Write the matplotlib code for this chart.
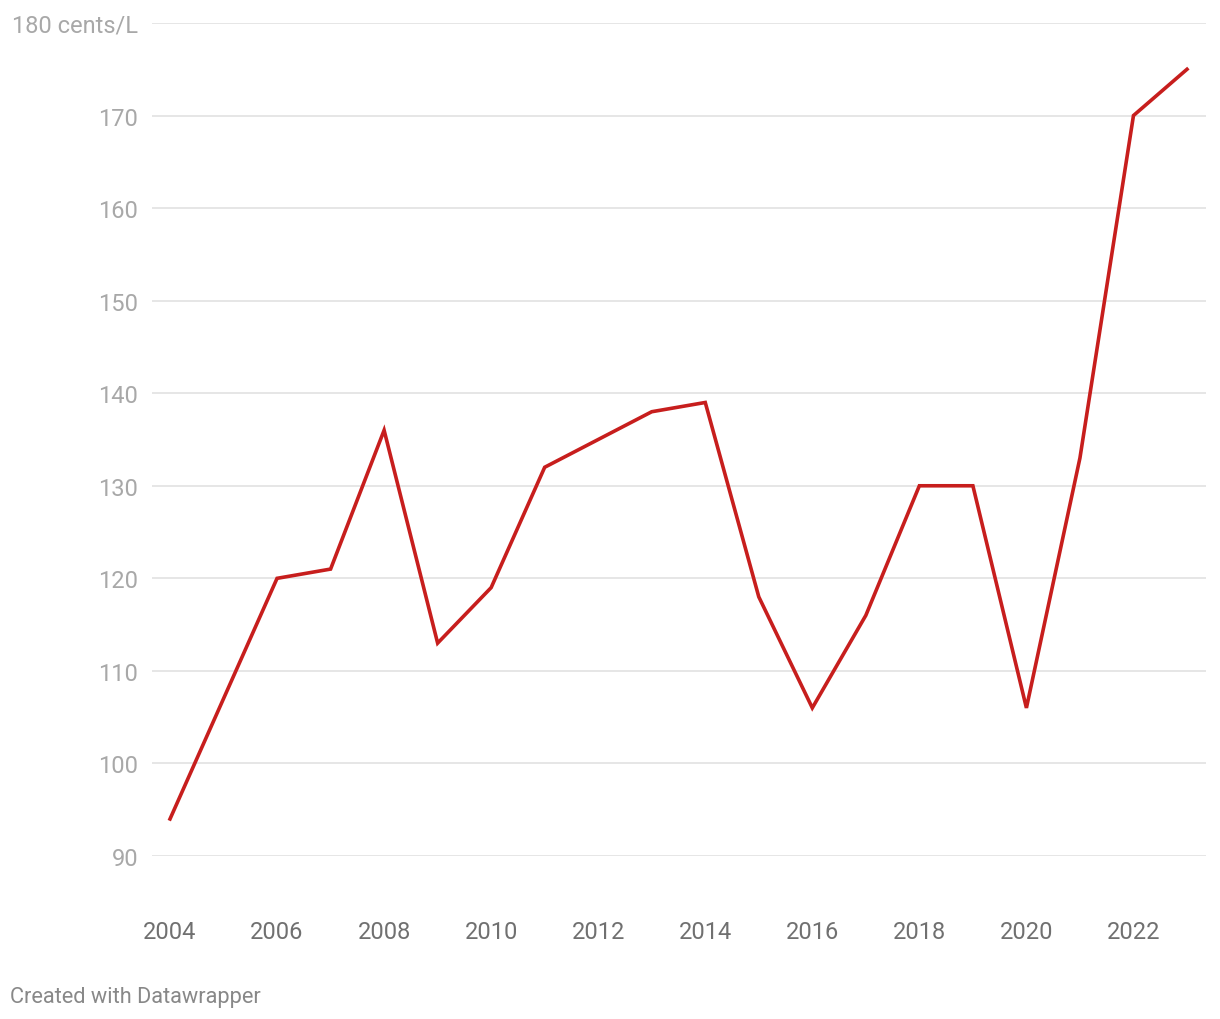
import matplotlib.pyplot as plt

plt.rcParams['font.family'] = ['Roboto', 'DejaVu Sans']

years = list(range(2004, 2024))
price = [94, 107, 120, 121, 136, 113, 119, 132, 135, 138,
         139, 118, 106, 116, 130, 130, 106, 133, 170, 175]
y_ticks = [90, 100, 110, 120, 130, 140, 150, 160, 170, 180]
y_labels = ['90', '100', '110', '120', '130', '140', '150', '160', '170', '']
x_ticks = [2004, 2006, 2008, 2010, 2012, 2014, 2016, 2018, 2020, 2022]

fig = plt.figure(figsize=(12.2, 10.2), dpi=100)
# axes box in pixels: x 152..1206, y 24..857 (from top)
ax = fig.add_axes([152 / 1220, 1 - 857 / 1020, (1206 - 152) / 1220, (857 - 24) / 1020])

ax.plot(years, price, color='#c71e1d', lw=2.6, solid_joinstyle='miter', zorder=3)

ax.set_ylim(90, 180)
ax.set_xlim(2004 - 18 / 53.5, 2023 + 19 / 53.5)
ax.set_yticks(y_ticks)
ax.set_yticklabels(y_labels)
ax.set_xticks(x_ticks)
ax.set_xticklabels([str(x) for x in x_ticks])

for y in y_ticks:
    ax.axhline(y, color='#e2e2e2', lw=1.2, zorder=1)

for s in ax.spines.values():
    s.set_visible(False)

ax.tick_params(axis='y', length=0, pad=10, labelsize=17, labelcolor='#a8a8a8')
ax.tick_params(axis='x', length=0, pad=46, labelsize=17, labelcolor='#707070')

# top label sticks out to the left
fig.text(138 / 1220, 1 - 24 / 1020, '180 cents/L', fontsize=17, color='#a8a8a8',
         ha='right', va='center_baseline')

fig.text(10 / 1220, 1 - 998 / 1020, 'Created with Datawrapper', fontsize=15.7,
         color='#888888', va='center', ha='left')

fig.savefig('out.png', dpi=100, facecolor='white')
